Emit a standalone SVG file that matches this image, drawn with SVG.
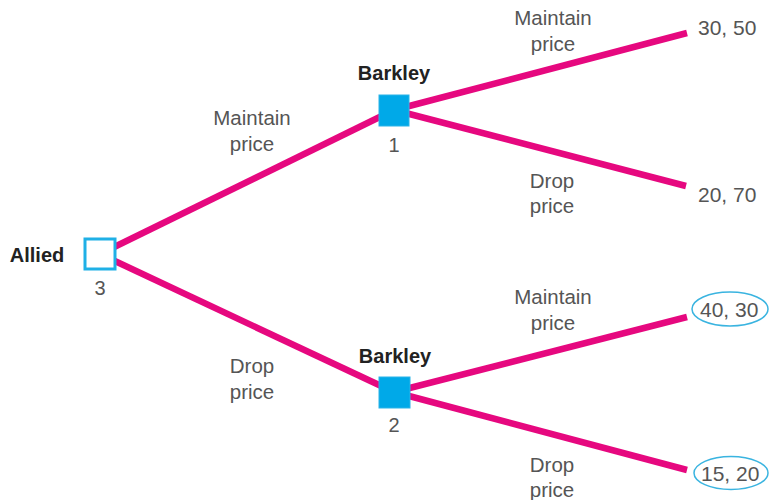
<svg xmlns="http://www.w3.org/2000/svg" width="769" height="500" viewBox="0 0 769 500">
<style>
.edge{stroke:#e6087f;stroke-width:6.5;fill:none;stroke-linecap:butt}
.lbl{font-family:"Liberation Sans",Arial,sans-serif;font-size:20.5px;fill:#555;text-anchor:middle}
.pay{font-family:"Liberation Sans",Arial,sans-serif;font-size:21px;fill:#555;text-anchor:start}
.name{font-family:"Liberation Sans",Arial,sans-serif;font-size:20px;font-weight:bold;fill:#222;text-anchor:middle}
.num{font-family:"Liberation Sans",Arial,sans-serif;font-size:20px;fill:#555;text-anchor:middle}
.dec{fill:#00a9e8;stroke:#2bb3e8;stroke-width:1}
.ring{fill:none;stroke:#3ab4e0;stroke-width:1.5}
</style>
<rect width="769" height="500" fill="#fff"/>
<g id="connectors">
<line class="edge" x1="100" y1="254" x2="394" y2="110"/>
<line class="edge" x1="100" y1="254" x2="394" y2="392"/>
<line class="edge" x1="394" y1="110" x2="687" y2="33"/>
<line class="edge" x1="394" y1="110" x2="686" y2="186"/>
<line class="edge" x1="394" y1="392" x2="687" y2="317"/>
<line class="edge" x1="394" y1="392" x2="687" y2="470"/>
<text class="lbl" x="252" y="125">Maintain</text>
<text class="lbl" x="252" y="151">price</text>
<text class="lbl" x="252" y="373">Drop</text>
<text class="lbl" x="252" y="399">price</text>
<text class="lbl" x="553" y="25">Maintain</text>
<text class="lbl" x="553" y="51">price</text>
<text class="lbl" x="552" y="188">Drop</text>
<text class="lbl" x="552" y="213">price</text>
<text class="lbl" x="553" y="304">Maintain</text>
<text class="lbl" x="553" y="330">price</text>
<text class="lbl" x="552" y="472">Drop</text>
<text class="lbl" x="552" y="497">price</text>
</g>
<g id="allied">
<rect x="85" y="239" width="30" height="30" fill="#fff" stroke="#1fb0e6" stroke-width="3"/>
<text class="name" x="37" y="262">Allied</text>
<text class="num" x="100" y="295">3</text>
</g>
<g id="barkley1">
<rect class="dec" x="379" y="95" width="30" height="31"/>
<text class="name" x="394" y="80">Barkley</text>
<text class="num" x="394" y="152">1</text>
</g>
<g id="barkley2">
<rect class="dec" x="379" y="377" width="31" height="31"/>
<text class="name" x="395" y="363">Barkley</text>
<text class="num" x="394" y="432">2</text>
</g>
<g id="payoff1">
<text class="pay" x="698" y="35">30, 50</text>
</g>
<g id="payoff2">
<text class="pay" x="698" y="202">20, 70</text>
</g>
<g id="payoff3">
<ellipse class="ring" cx="730" cy="309" rx="38" ry="17"/>
<text class="pay" x="700" y="317">40, 30</text>
</g>
<g id="payoff4">
<ellipse class="ring" cx="731" cy="473" rx="37" ry="16.5"/>
<text class="pay" x="701" y="481">15, 20</text>
</g>
</svg>
